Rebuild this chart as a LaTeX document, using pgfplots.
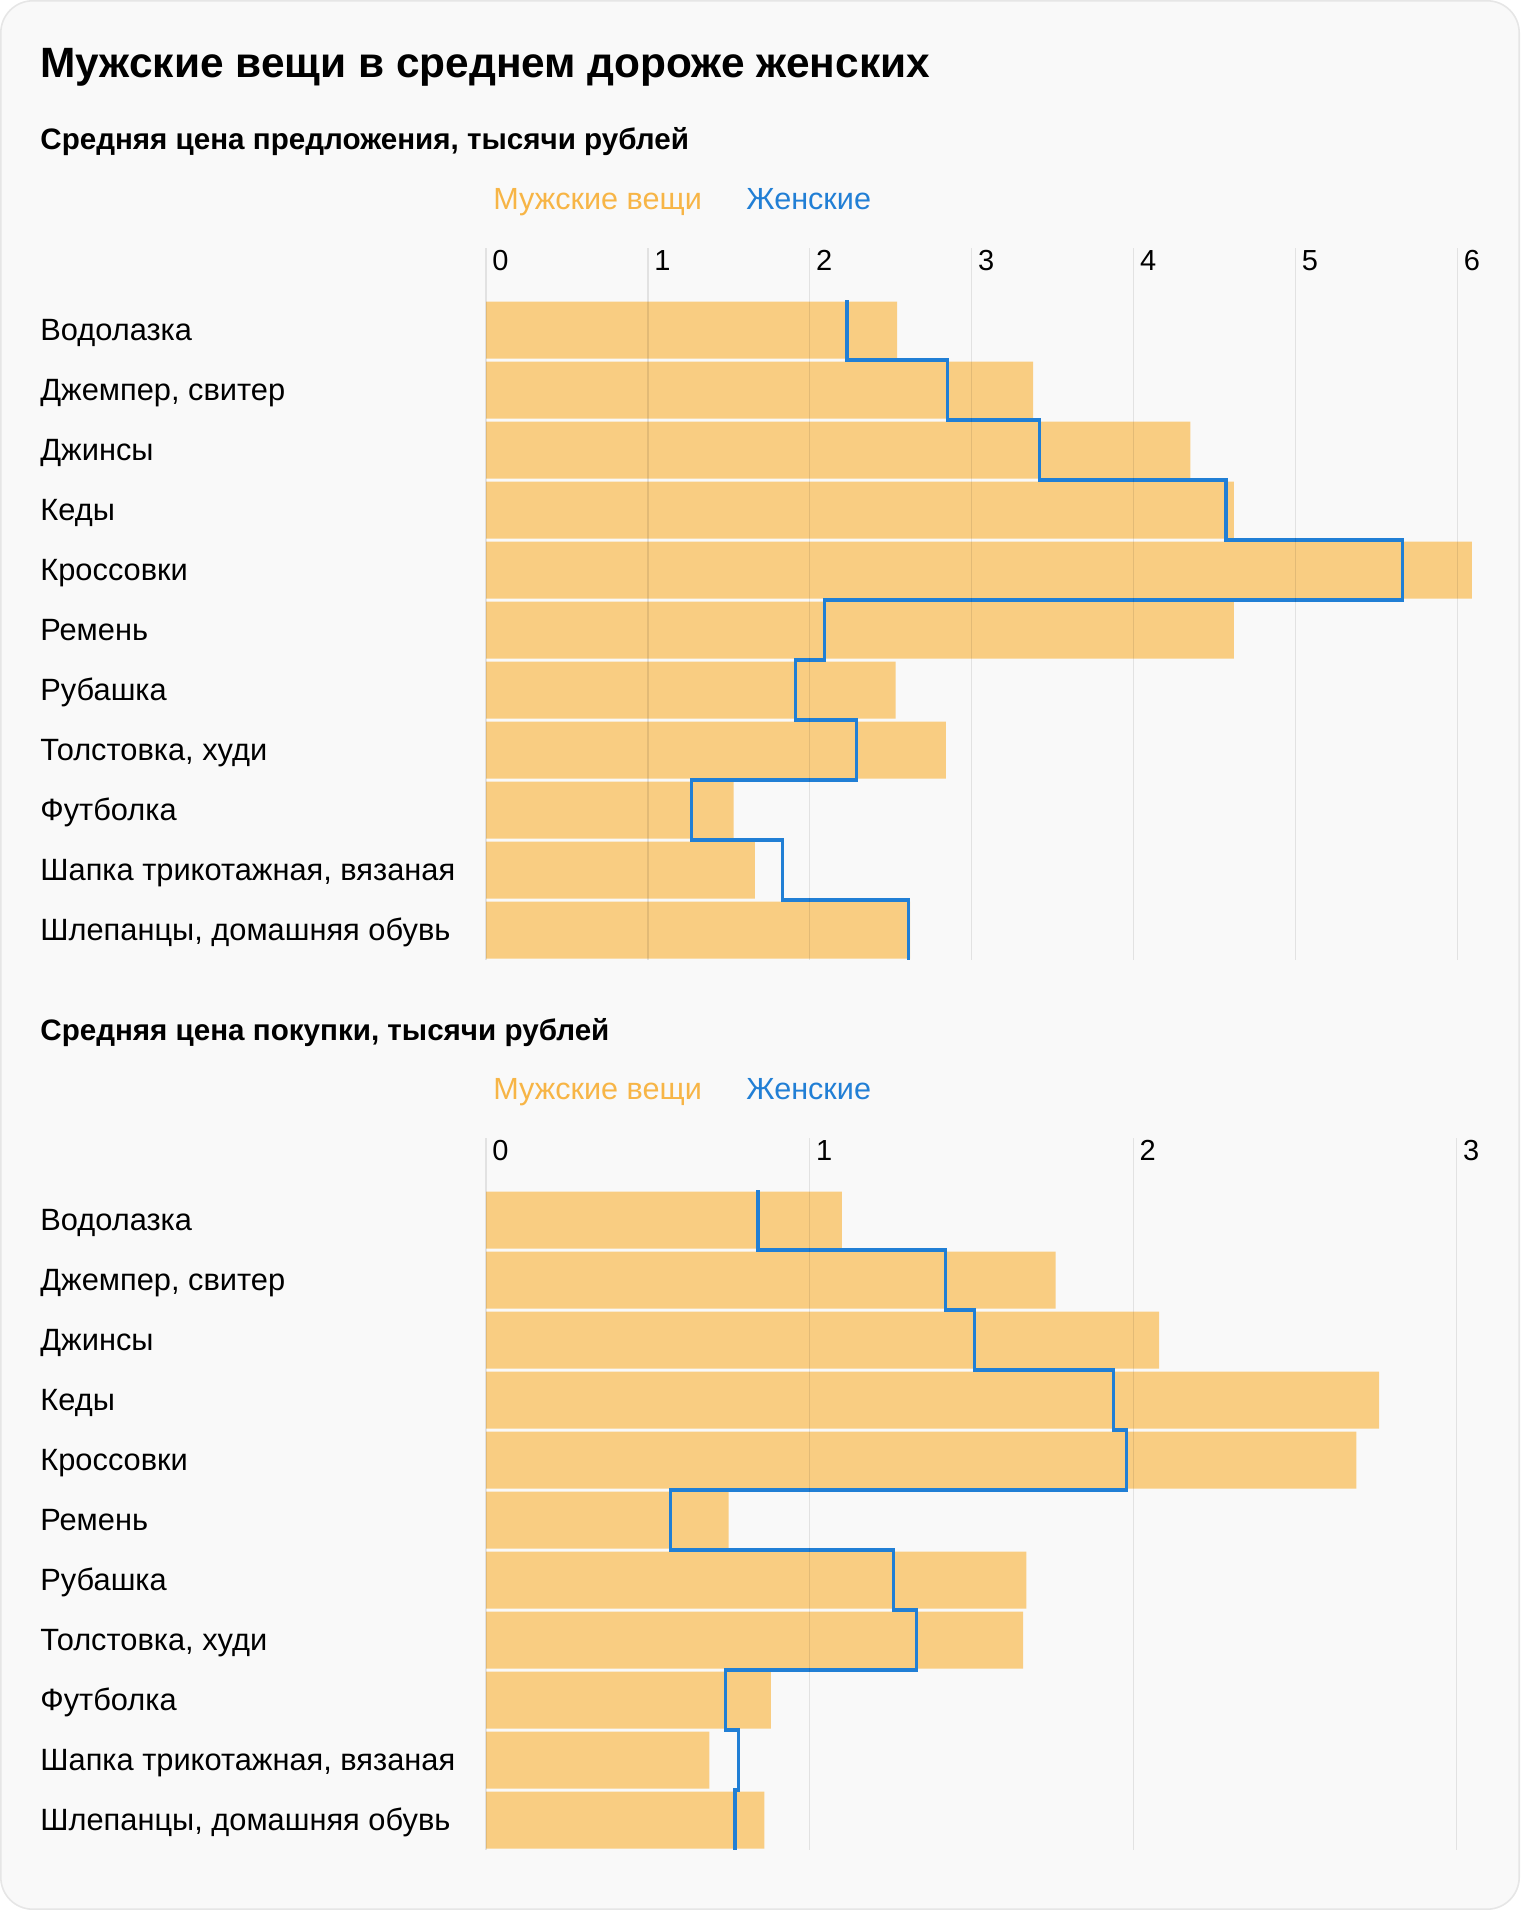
\documentclass[border=0pt]{standalone}
\usepackage{fontspec}
\setmainfont{Liberation Sans}
\usepackage{pgfplots}
\pgfplotsset{compat=1.18}

\definecolor{bg}{RGB}{249,249,249}
\definecolor{frame}{RGB}{230,230,230}
\definecolor{menbar}{RGB}{249,205,130}
\definecolor{mentext}{RGB}{247,181,70}
\definecolor{women}{RGB}{33,127,213}

% common look of both panels
\pgfplotsset{
  pricechart/.style={
    y dir=reverse, y=30pt, ymin=-1.3667, ymax=10.5,
    xmin=0,
    axis on top,
    axis line style={draw=none},
    major tick length=0pt,
    xmajorgrids,
    major grid style={black, opacity=0.09, line width=0.6pt},
    xticklabel pos=upper,
    /pgf/number format/assume math mode=true,
    xticklabel style={anchor=north west, inner sep=0pt, xshift=3pt, yshift=-1pt,
      font=\fontsize{14.5}{17}\selectfont},
    ytick={0,...,10},
    yticklabels={Водолазка, {Джемпер, свитер}, Джинсы, Кеды, Кроссовки, Ремень,
      Рубашка, {Толстовка, худи}, Футболка, {Шапка трикотажная, вязаная},
      {Шлепанцы, домашняя обувь}},
    yticklabel style={anchor=base west, inner sep=0pt, xshift=-223pt, yshift=-5pt,
      font=\fontsize{15.4}{18}\selectfont},
  },
  menbars/.style={xbar, bar width=28.5pt, bar shift=0pt, fill=menbar, draw=none},
  womenline/.style={const plot mark right, draw=women, line width=1.7pt, mark=none},
}

\begin{document}
\begin{tikzpicture}
\fill[bg, draw=frame, line width=0.8pt, rounded corners=16pt] (0.4pt,-0.4pt) rectangle (759.6pt,-954.6pt);
\useasboundingbox (0,0) rectangle (760pt,-955pt);

\node[anchor=base west, inner sep=0pt, font=\bfseries\fontsize{21.2}{25}\selectfont] at (20pt,-39pt) {Мужские вещи в среднем дороже женских};

% --- offer price
\node[anchor=base west, inner sep=0pt, font=\bfseries\fontsize{14.8}{17}\selectfont] at (20pt,-75pt) {Средняя цена предложения, тысячи рублей};
\node[anchor=base west, inner sep=0pt, text=mentext, font=\fontsize{15.3}{17}\selectfont] at (246.5pt,-105pt) {Мужские вещи};
\node[anchor=base west, inner sep=0pt, text=women, font=\fontsize{15.3}{17}\selectfont] at (373pt,-105pt) {Женские};

\begin{axis}[pricechart, at={(243pt,-124pt)}, anchor=north west,
  x=80.95pt, xmax=6.12, xtick={0,...,6}]
\addplot[menbars] coordinates {
  (2.54,0) (3.38,1) (4.35,2) (4.62,3) (6.09,4) (4.62,5)
  (2.53,6) (2.84,7) (1.53,8) (1.66,9) (2.62,10)};
\addplot[womenline] coordinates {
  (2.23,-0.5) (2.85,0.5) (3.42,1.5) (4.57,2.5) (5.66,3.5) (2.09,4.5)
  (1.91,5.5) (2.29,6.5) (1.27,7.5) (1.83,8.5) (2.61,9.5) (2.61,10.5)};
\end{axis}

% --- purchase price
\node[anchor=base west, inner sep=0pt, font=\bfseries\fontsize{14.8}{17}\selectfont] at (20pt,-520pt) {Средняя цена покупки, тысячи рублей};
\node[anchor=base west, inner sep=0pt, text=mentext, font=\fontsize{15.3}{17}\selectfont] at (246.5pt,-549.5pt) {Мужские вещи};
\node[anchor=base west, inner sep=0pt, text=women, font=\fontsize{15.3}{17}\selectfont] at (373pt,-549.5pt) {Женские};

\begin{axis}[pricechart, at={(243pt,-569pt)}, anchor=north west,
  x=161.8pt, xmax=3.06, xtick={0,...,3}]
\addplot[menbars] coordinates {
  (1.10,0) (1.76,1) (2.08,2) (2.76,3) (2.69,4) (0.75,5)
  (1.67,6) (1.66,7) (0.88,8) (0.69,9) (0.86,10)};
\addplot[womenline] coordinates {
  (0.84,-0.5) (1.42,0.5) (1.51,1.5) (1.94,2.5) (1.98,3.5) (0.57,4.5)
  (1.26,5.5) (1.33,6.5) (0.74,7.5) (0.78,8.5) (0.77,9.5) (0.77,10.5)};
\end{axis}
\end{tikzpicture}
\end{document}
